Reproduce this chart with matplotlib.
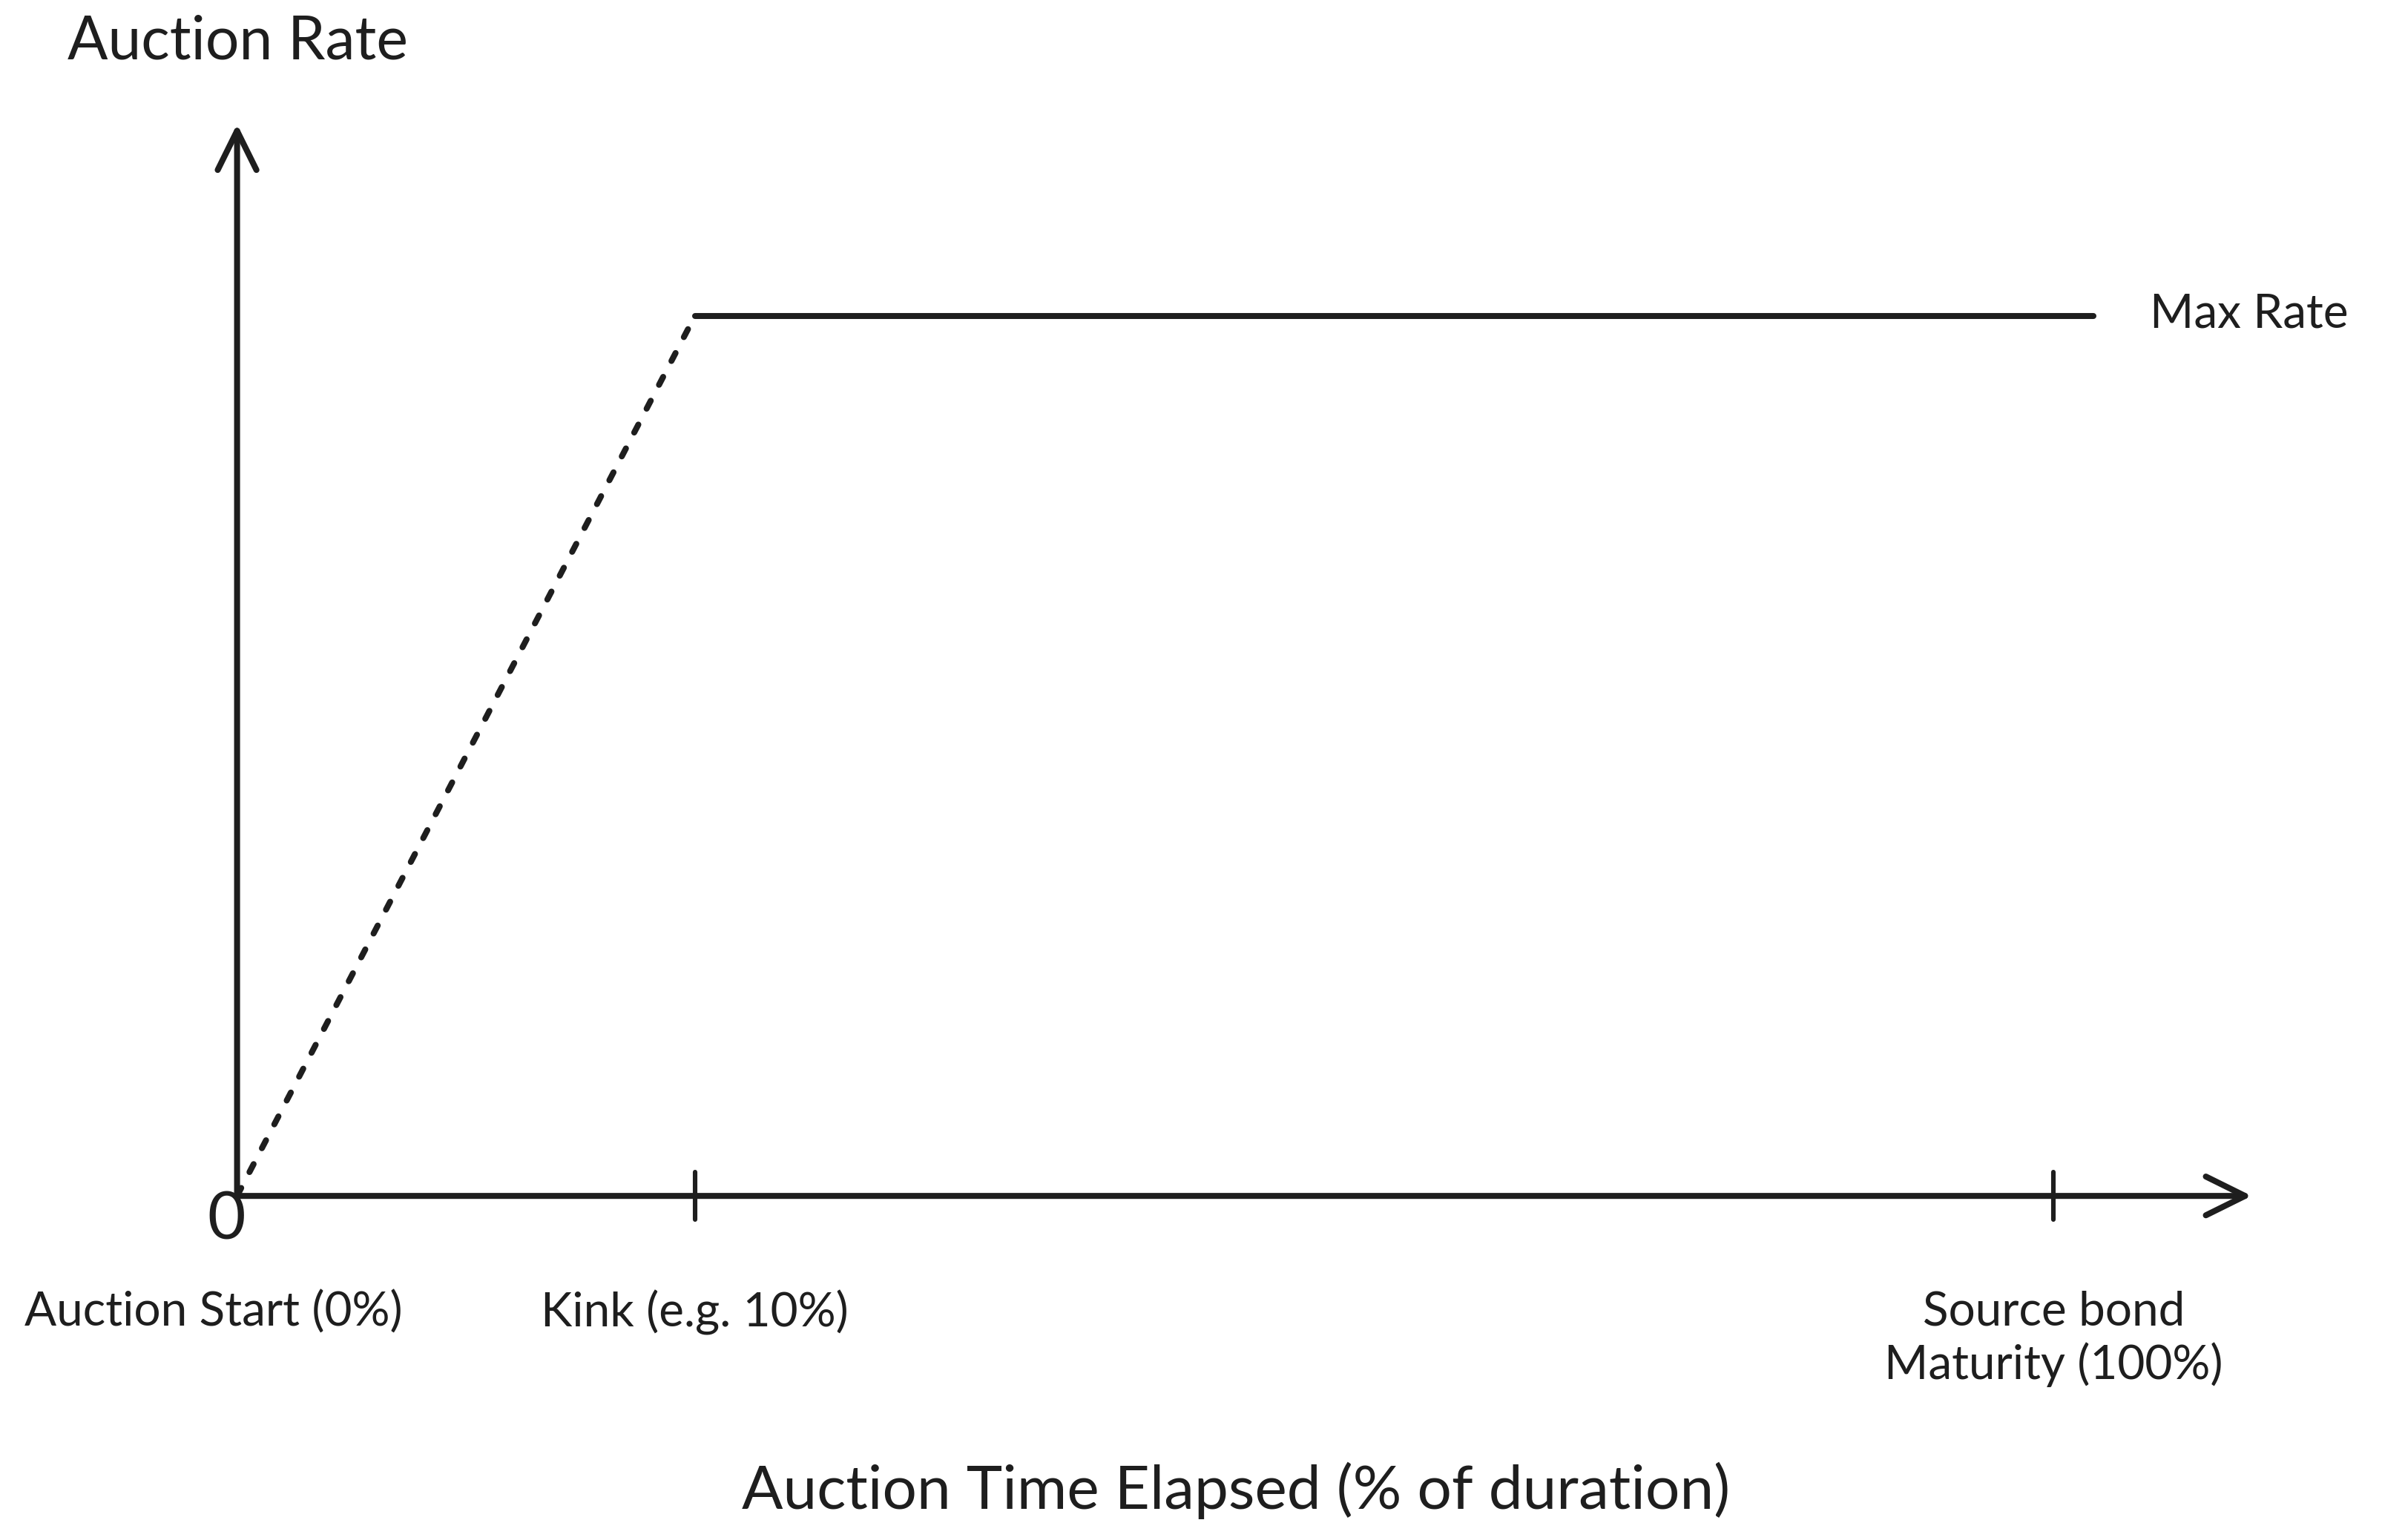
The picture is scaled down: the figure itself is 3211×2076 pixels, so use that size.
import matplotlib
matplotlib.use("Agg")
import matplotlib.pyplot as plt
from matplotlib.patches import FancyArrowPatch

# schematic positions (x in % of drawn axis length, y relative to max rate)
time_points = [0, 25.2, 100]          # start, kink, maturity (drawn positions)
tick_labels = ["Auction Start (0%)", "Kink (e.g. 10%)", "Source bond\nMaturity (100%)"]
ramp_x = [0, 25.2]
ramp_y = [0, 1.0]
cap_x = [25.2, 102.2]
cap_y = [1.0, 1.0]
x_axis_end = 110.9
y_axis_end = 1.218

INK = "#1e1e1e"
plt.rcParams["font.family"] = ["Lato", "DejaVu Sans"]

fig = plt.figure(figsize=(3211 / 200, 2076 / 200), dpi=200)
ax = fig.add_axes([0, 0, 1, 1])
ax.set_xlim(-13.05, 118.07)
ax.set_ylim(-0.391, 1.359)
ax.axis("off")

# axes with open arrow heads
for end in [(x_axis_end, 0), (0, y_axis_end)]:
    arr = FancyArrowPatch((0, 0), end, arrowstyle="->,head_length=0.95,head_width=0.47",
                          mutation_scale=20, lw=2.9, color=INK, shrinkA=0, shrinkB=0,
                          capstyle="round", joinstyle="round")
    ax.add_patch(arr)

# tick marks on the time axis
for x in time_points[1:]:
    ax.plot([x, x], [-0.027, 0.027], color=INK, lw=2.2, solid_capstyle="round")

# rate curve
ax.plot(ramp_x, ramp_y, color=INK, lw=2.9, linestyle=(0, (1.5, 3.0)),
        dash_capstyle="round")
ax.plot(cap_x, cap_y, color=INK, lw=2.9, solid_capstyle="round")

# labels
ax.text(-0.6, -0.028, "0", fontsize=32, color=INK, ha="center", va="center")
for x, lab in zip(time_points, tick_labels):
    xx = x - 1.3 if x == 0 else x
    ax.text(xx, -0.107, lab, fontsize=23, color=INK, ha="center", va="top",
            linespacing=1.25)
ax.text(105.3, 1.002, "Max Rate", fontsize=23, color=INK, ha="left", va="center")
ax.text(-9.35, 1.311, "Auction Rate", fontsize=29, color=INK, ha="left", va="center")
ax.text(55, -0.335, "Auction Time Elapsed (% of duration)", fontsize=29.5, color=INK,
        ha="center", va="center")

fig.savefig("out.png", dpi=200, facecolor="white")
plt.close(fig)
